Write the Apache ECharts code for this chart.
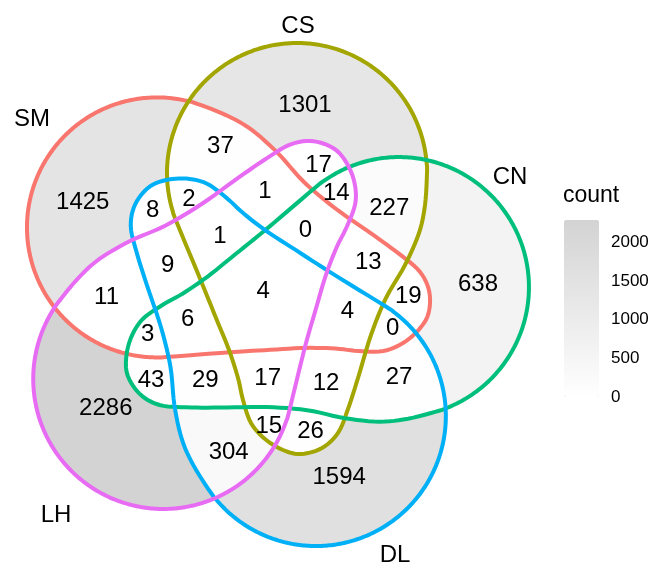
<!DOCTYPE html>
<html>
<head>
<meta charset="utf-8">
<script src="https://cdn.jsdelivr.net/npm/echarts@6/dist/echarts.min.js"></script>
<style>
  html, body { margin: 0; padding: 0; background: #fff; }
  #main { width: 654px; height: 566px; }
</style>
</head>
<body>
<div id="main"></div>
<script>
// sets, in the order their lobes go round the diagram (clockwise from top)
const setNames = ["CS", "CN", "DL", "LH", "SM"];

// region counts, each region named by the sets it belongs to
const regionSets = [
  "CS", "CN", "DL", "LH", "SM",
  "CS,SM", "CS,CN", "CN,DL", "DL,LH", "LH,SM",
  "CS,LH", "CN,SM", "CS,DL", "CN,LH", "DL,SM",
  "CS,CN,SM", "CS,CN,DL", "CN,DL,LH", "DL,LH,SM", "CS,LH,SM",
  "CS,CN,LH", "CN,DL,SM", "CS,DL,LH", "CN,LH,SM", "CS,DL,SM",
  "CS,CN,LH,SM", "CS,CN,DL,SM", "CS,CN,DL,LH", "CN,DL,LH,SM", "CS,DL,LH,SM",
  "CS,CN,DL,LH,SM"
];
const regionCounts = [
  1301, 638, 1594, 2286, 1425,
  37, 227, 27, 304, 11,
  17, 19, 26, 43, 8,
  13, 12, 29, 9, 1,
  14, 0, 15, 3, 2,
  0, 4, 17, 6, 1,
  4
];
const legendTicks = [0, 500, 1000, 1500, 2000];

// ---- layout / style ----
const W = 654, H = 566;
const CENTER = [268, 296];
const colors = { SM: "#F8766D", CS: "#A3A500", CN: "#00BF7D", DL: "#00B0F6", LH: "#E76BF3" };
const drawOrder = ["SM", "CS", "CN", "DL", "LH"];
const setLabelPos = { CS: [298, 26], CN: [510, 177], DL: [395, 555], LH: [56, 515], SM: [32, 119] };
// small nudges of each lobe (the tails stay put)
const lobeNudge = { CS: [0, 0], CN: [5, 1.5], DL: [-1, 3.5], LH: [-9, 0.5], SM: [-3, -3] };
const FONT = "'Liberation Sans', Arial, Helvetica, sans-serif";

// one petal shape (drawn as CS): round lobe + tail; the other sets are it turned by 72deg steps
const lobe = { cx: 297, cy: 173, r: 130, from: 158, to: 360 };
const tail = [[425, 205], [419, 233], [405, 265], [386, 298], [371, 335], [358, 378], [348, 409],
  [338, 433], [322, 448], [301, 454], [283, 450], [265, 439], [251, 423], [243, 400], [238, 378],
  [229, 350], [216, 318], [201, 281]];

function petal() {
  // each point carries a weight: 1 on the lobe, fading to 0 down the tail
  const pts = [];
  const n = Math.ceil((lobe.to - lobe.from) / 5);
  for (let i = 0; i <= n; i++) {
    const t = (lobe.from + (lobe.to - lobe.from) * i / n) * Math.PI / 180;
    pts.push([lobe.cx + lobe.r * Math.cos(t), lobe.cy + lobe.r * Math.sin(t), 1]);
  }
  tail.forEach(p => {
    const d = Math.hypot(p[0] - lobe.cx, p[1] - lobe.cy);
    pts.push([p[0], p[1], Math.max(0, Math.min(1, (270 - d) / 130))]);
  });
  return pts;
}

function smoothClosed(pts, steps) {
  const out = [];
  const n = pts.length;
  for (let i = 0; i < n; i++) {
    const p0 = pts[(i - 1 + n) % n], p1 = pts[i], p2 = pts[(i + 1) % n], p3 = pts[(i + 2) % n];
    for (let s = 0; s < steps; s++) {
      const t = s / steps, t2 = t * t, t3 = t2 * t;
      out.push([0, 1].map(d => 0.5 * (2 * p1[d] + (-p0[d] + p2[d]) * t +
        (2 * p0[d] - 5 * p1[d] + 4 * p2[d] - p3[d]) * t2 +
        (-p0[d] + 3 * p1[d] - 3 * p2[d] + p3[d]) * t3)));
    }
  }
  return out;
}

function placePetal(pts, deg, nudge) {
  const a = deg * Math.PI / 180, c = Math.cos(a), s = Math.sin(a);
  return pts.map(p => {
    const dx = p[0] - CENTER[0], dy = p[1] - CENTER[1];
    return [CENTER[0] + dx * c - dy * s + nudge[0] * p[2],
            CENTER[1] + dx * s + dy * c + nudge[1] * p[2], p[2]];
  });
}

const base = petal();
const outlines = setNames.map((n, k) => smoothClosed(placePetal(base, k * 72, lobeNudge[n]), 6));

// count for every membership mask
const countByMask = {};
regionSets.forEach((r, i) => {
  let m = 0;
  r.split(",").forEach(n => { m |= 1 << setNames.indexOf(n); });
  countByMask[m] = regionCounts[i];
});

// scan rows: split every row into runs by which sets cover them
const cells = [];
const runs = {}; // mask -> { rows: {j: [[x0,x1],...]}, ymin, ymax }
for (let j = 0; j < H; j++) {
  const y = j + 0.5;
  const events = [];
  outlines.forEach((poly, k) => {
    for (let i = 0; i < poly.length; i++) {
      const a = poly[i], b = poly[(i + 1) % poly.length];
      if ((a[1] <= y && y < b[1]) || (b[1] <= y && y < a[1])) {
        events.push([a[0] + (y - a[1]) * (b[0] - a[0]) / (b[1] - a[1]), k]);
      }
    }
  });
  if (!events.length) continue;
  events.sort((p, q) => p[0] - q[0]);
  let mask = 0, prev = events[0][0];
  events.forEach(([x, k]) => {
    if (mask && x > prev) {
      cells.push([prev, x, j, countByMask[mask] || 0]);
      const r = runs[mask] || (runs[mask] = { rows: {}, ymin: j, ymax: j });
      (r.rows[j] || (r.rows[j] = [])).push([prev, x]);
      r.ymin = Math.min(r.ymin, j); r.ymax = Math.max(r.ymax, j);
    }
    mask ^= 1 << k;
    prev = x;
  });
}

// label spot: middle of the widest run on the row through the middle of the region's height
const labels = Object.keys(runs).map(m => {
  const r = runs[m];
  let j = Math.round((r.ymin + r.ymax) / 2);
  while (!r.rows[j]) j++;
  let best = r.rows[j][0];
  r.rows[j].forEach(iv => { if (iv[1] - iv[0] > best[1] - best[0]) best = iv; });
  return [(best[0] + best[1]) / 2, (r.ymin + r.ymax + 1) / 2, countByMask[m]];
});

const chart = echarts.init(document.getElementById("main"), null, { renderer: "canvas" });

chart.setOption({
  backgroundColor: "#fff",
  animation: false,
  title: {
    text: "count", left: 563, top: 184, padding: 0,
    textStyle: { fontFamily: FONT, fontSize: 23, fontWeight: "normal", color: "#000" }
  },
  grid: [
    { left: 0, top: 0, width: W, height: H },
    { left: 564, top: 220, width: 35, height: 177 }
  ],
  xAxis: [
    { type: "value", min: 0, max: W, show: false, gridIndex: 0 },
    { type: "value", min: 0, max: 1, show: false, gridIndex: 1 }
  ],
  yAxis: [
    { type: "value", min: 0, max: H, inverse: true, show: false, gridIndex: 0 },
    {
      type: "value", gridIndex: 1, position: "right", min: 0, max: 2286,
      axisLine: { show: false }, splitLine: { show: false },
      axisTick: { inside: true, length: 7, lineStyle: { color: "#fff", width: 1 }, customValues: legendTicks },
      axisLabel: { margin: 12, fontSize: 17, fontFamily: FONT, color: "#000", customValues: legendTicks,
        formatter: v => String(v) }
    },
    {
      type: "value", gridIndex: 1, position: "left", min: 0, max: 2286,
      axisLine: { show: false }, splitLine: { show: false },
      axisTick: { inside: true, length: 7, lineStyle: { color: "#fff", width: 1 }, customValues: legendTicks },
      axisLabel: { show: false }
    }
  ],
  visualMap: {
    type: "continuous", seriesIndex: 0, dimension: 3, min: 0, max: 2286,
    inRange: { color: ["#FFFFFF", "#D3D3D3"] },
    calculable: false, hoverLink: false, left: 564, top: 220, padding: 0,
    itemWidth: 35, itemHeight: 177, z: 1
  },
  series: [
    {
      type: "custom", silent: true, z: 1,
      dimensions: ["x0", "x1", "y", "count"],
      encode: { x: [0, 1], y: 2 },
      data: cells,
      renderItem: (params, api) => {
        const p0 = api.coord([api.value(0), api.value(2)]);
        const p1 = api.coord([api.value(1), api.value(2) + 1]);
        return {
          type: "rect",
          shape: { x: p0[0], y: p0[1], width: p1[0] - p0[0], height: p1[1] - p0[1] },
          style: { fill: api.visual("color") }
        };
      }
    },
    {
      type: "custom", silent: true, z: 2,
      encode: { x: 0, y: 1 },
      data: drawOrder.map(n => [CENTER[0], CENTER[1], setNames.indexOf(n)]),
      renderItem: (params, api) => {
        const k = api.value(2);
        return {
          type: "polygon",
          shape: { points: outlines[k].map(p => api.coord(p)) },
          style: { fill: "none", stroke: colors[setNames[k]], lineWidth: 4 }
        };
      }
    },
    {
      type: "custom", silent: true, z: 3,
      encode: { x: 0, y: 1 },
      data: labels,
      renderItem: (params, api) => {
        const p = api.coord([api.value(0), api.value(1)]);
        return {
          type: "text", x: p[0], y: p[1],
          style: { text: String(api.value(2)), align: "center", verticalAlign: "middle",
            fontSize: 24, fontFamily: FONT, fill: "#000" }
        };
      }
    },
    {
      type: "custom", silent: true, z: 3,
      encode: { x: 0, y: 1 },
      data: setNames.map((n, k) => [setLabelPos[n][0], setLabelPos[n][1], k]),
      renderItem: (params, api) => {
        const p = api.coord([api.value(0), api.value(1)]);
        return {
          type: "text", x: p[0], y: p[1],
          style: { text: setNames[api.value(2)], align: "center", verticalAlign: "middle",
            fontSize: 24, fontFamily: FONT, fill: "#000" }
        };
      }
    }
  ]
});
</script>
</body>
</html>
